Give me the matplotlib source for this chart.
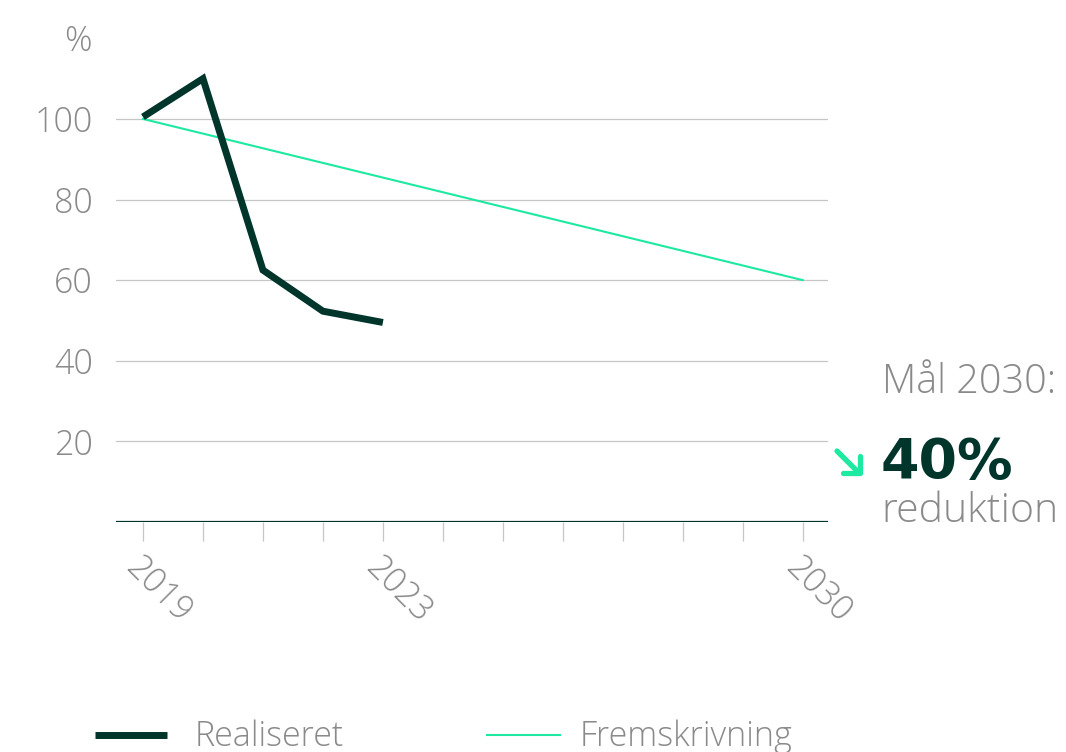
import matplotlib
matplotlib.use("Agg")
import matplotlib.pyplot as plt
from matplotlib.lines import Line2D

years_real = [2019, 2020, 2021, 2022, 2023]
real_vals = [100.5, 110, 62.5, 52.3, 49.5]
years_proj = [2019, 2030]
proj_vals = [100, 60]
yticks = [20, 40, 60, 80, 100]
xticks = list(range(2019, 2031))
xlabels = ["2019", "2023", "2030"]

DARK = "#00352b"
GREEN = "#1de9a0"
GRAY = "#8a8a8a"
FONT = "Open Sans"
LW = 'light'

plt.rcParams['font.family'] = [FONT, 'DejaVu Sans']

fig = plt.figure(figsize=(10.66, 7.52), dpi=100)
ax = fig.add_axes([0.1088, 0.3059, 0.6679, 0.6431])
ax.set_xlim(2018.55, 2030.42)
ax.set_ylim(0, 120)

for y in yticks:
    ax.axhline(y, color="#c6c6c6", lw=0.9, zorder=1)
ax.axhline(0, color=DARK, lw=1.6, zorder=3)

ax.plot(years_proj, proj_vals, color=GREEN, lw=1.5, zorder=4)
ax.plot(years_real, real_vals, color=DARK, lw=5, solid_capstyle='butt',
        solid_joinstyle='miter', zorder=5)

for s in ax.spines.values():
    s.set_visible(False)
ax.set_yticks(yticks)
ax.set_yticklabels([str(v) for v in yticks], fontsize=24.5, color=GRAY, fontweight=LW)
ax.tick_params(axis='y', length=0, pad=16.5)
ax.set_xticks(xticks)
ax.set_xticklabels([str(x) if str(x) in xlabels else "" for x in xticks],
                   rotation=-45, ha='left', va='top', rotation_mode='anchor',
                   fontsize=24.5, color=GRAY, fontweight=LW)
ax.tick_params(axis='x', length=13.5, width=0.9, color="#c6c6c6", pad=7)

ax.text(-0.0337, 0.9925, "%", transform=ax.transAxes, fontsize=24.5, color=GRAY,
        ha='right', va='center', fontweight=LW)

# goal annotation
fig.text(0.827, 0.4774, "Mål 2030:", fontsize=28.5, color=GRAY, ha='left', va='baseline', fontweight=LW)
fig.text(0.826, 0.364, "40%", fontsize=40, color=DARK, fontweight='bold', ha='left',
         va='baseline', family=['DejaVu Sans'])
fig.text(0.827, 0.306, "reduktion", fontsize=29.5, color=GRAY, ha='left', va='baseline', fontweight=LW)

W, H = 1066.0, 752.0
def px(xs, ys):
    return [x / W for x in xs], [1 - y / H for y in ys]

for xs, ys in [([837, 858], [451, 472]), ([843, 860, 860], [473, 473, 456])]:
    fx, fy = px(xs, ys)
    fig.add_artist(Line2D(fx, fy, color=GREEN, lw=3.8, solid_capstyle='round',
                          solid_joinstyle='round', transform=fig.transFigure))

# legend
fig.add_artist(Line2D([0.089, 0.157], [0.0226, 0.0226], color=DARK, lw=5,
                      solid_capstyle='butt', transform=fig.transFigure))
fig.text(0.183, 0.008, "Realiseret", fontsize=24.5, color=GRAY, ha='left', va='baseline', fontweight=LW)
fig.add_artist(Line2D([0.457, 0.525], [0.0226, 0.0226], color=GREEN, lw=1.5,
                      transform=fig.transFigure))
fig.text(0.544, 0.008, "Fremskrivning", fontsize=24.5, color=GRAY, ha='left', va='baseline', fontweight=LW)

fig.savefig("out.png", dpi=100)
